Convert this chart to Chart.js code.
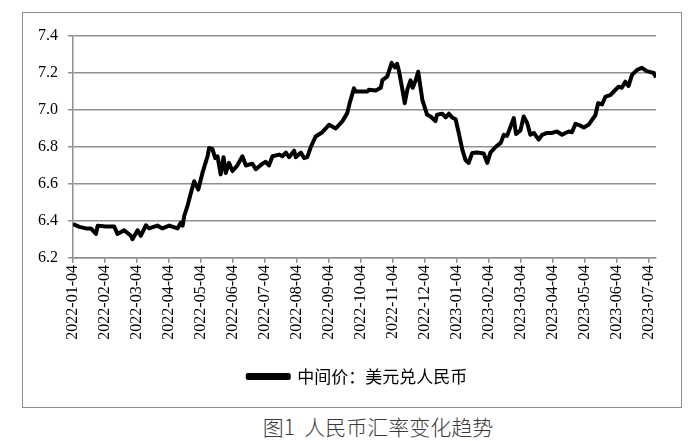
<!DOCTYPE html>
<html>
<head>
<meta charset="utf-8">
<script src="https://cdn.jsdelivr.net/npm/chart.js@4"></script>
<style>
  body { margin: 0; background: #fff; width: 700px; height: 441px; position: relative; overflow: hidden; }
  #frame { position: absolute; left: 22px; top: 12px; width: 658px; height: 394px; border: 1px solid #8c8c8c; }
  #caption { position: absolute; left: 0; width: 756px; top: 411px; text-align: center;
             font-family: "Noto Sans CJK SC", sans-serif; font-weight: 300; font-size: 21px; color: #3a3a3a; white-space: pre; }
</style>
</head>
<body>
<div id="frame"><canvas id="rateChart" width="658" height="394"></canvas></div>
<div id="caption">图1  人民币汇率变化趋势</div>
<script>
// month labels on the x axis (one per month, from 2022-01-04)
const monthLabels = ['2022-01-04', '2022-02-04', '2022-03-04', '2022-04-04', '2022-05-04', '2022-06-04',
    '2022-07-04', '2022-08-04', '2022-09-04', '2022-10-04', '2022-11-04', '2022-12-04',
    '2023-01-04', '2023-02-04', '2023-03-04', '2023-04-04', '2023-05-04', '2023-06-04', '2023-07-04'];

// position of each reading, in months after 2022-01-04
const timePos = [0, 0.2, 0.41, 0.56, 0.72, 0.77, 1.03, 1.29, 1.39, 1.6, 1.81, 1.86, 2.02, 2.12, 2.28, 2.38,
    2.64, 2.8, 3.01, 3.27, 3.37, 3.43, 3.48, 3.58, 3.69, 3.79, 3.92, 4.05, 4.21, 4.26, 4.36, 4.45,
    4.52, 4.62, 4.71, 4.78, 4.88, 4.99, 5.14, 5.3, 5.41, 5.61, 5.72, 5.93, 6.03, 6.13, 6.24, 6.45,
    6.55, 6.66, 6.76, 6.92, 6.97, 7.13, 7.23, 7.33, 7.44, 7.59, 7.8, 8.01, 8.22, 8.43, 8.58, 8.66,
    8.79, 8.84, 9.21, 9.26, 9.47, 9.63, 9.68, 9.83, 9.97, 10.07, 10.14, 10.2, 10.28, 10.38, 10.46,
    10.56, 10.63, 10.72, 10.8, 10.93, 11.08, 11.19, 11.34, 11.39, 11.55, 11.66, 11.76, 11.86, 11.97,
    12.07, 12.18, 12.28, 12.38, 12.49, 12.64, 12.85, 12.96, 13.06, 13.22, 13.38, 13.48, 13.58, 13.69,
    13.79, 13.86, 14.0, 14.1, 14.21, 14.31, 14.42, 14.57, 14.68, 14.83, 14.99, 15.14, 15.3, 15.41,
    15.51, 15.61, 15.72, 15.88, 15.98, 16.13, 16.24, 16.34, 16.43, 16.55, 16.66, 16.81, 16.92, 17.07,
    17.17, 17.28, 17.38, 17.49, 17.64, 17.8, 17.95, 18.06, 18.17, 18.24];

// USD/CNY central parity
const rates = [6.383, 6.368, 6.36, 6.36, 6.33, 6.374, 6.37, 6.37, 6.33, 6.35, 6.32, 6.302, 6.35, 6.32, 6.377, 6.36,
    6.375, 6.36, 6.375, 6.36, 6.39, 6.375, 6.427, 6.48, 6.553, 6.615, 6.57, 6.66, 6.75, 6.795, 6.79, 6.74,
    6.75, 6.652, 6.745, 6.66, 6.714, 6.67, 6.70, 6.75, 6.70, 6.71, 6.68, 6.71, 6.72, 6.70, 6.75, 6.759,
    6.75, 6.77, 6.745, 6.78, 6.745, 6.77, 6.74, 6.745, 6.80, 6.857, 6.88, 6.92, 6.90, 6.94, 6.983, 7.04,
    7.117, 7.10, 7.10, 7.11, 7.105, 7.12, 7.162, 7.18, 7.255, 7.23, 7.25, 7.21, 7.135, 7.037, 7.11,
    7.16, 7.12, 7.16, 7.207, 7.055, 6.974, 6.965, 6.94, 6.975, 6.98, 6.96, 6.98, 6.96, 6.95,
    6.875, 6.786, 6.73, 6.714, 6.768, 6.77, 6.765, 6.714, 6.77, 6.80, 6.822, 6.866, 6.86, 6.91,
    6.956, 6.87, 6.89, 6.965, 6.93, 6.866, 6.876, 6.84, 6.866, 6.876, 6.876, 6.884, 6.866, 6.876,
    6.884, 6.88, 6.925, 6.915, 6.905, 6.92, 6.947, 6.97, 7.037, 7.03, 7.072, 7.08, 7.10, 7.126,
    7.12, 7.153, 7.13, 7.19, 7.216, 7.228, 7.21, 7.205, 7.20, 7.176];

const yTicks = [6.2, 6.4, 6.6, 6.8, 7.0, 7.2, 7.4];

const gridColor = '#8f8f8f';
const serif = 'Liberation Serif';

const rateChart = new Chart(document.getElementById('rateChart'), {
    type: 'line',
    data: {
        datasets: [{
            label: '中间价：美元兑人民币',
            data: timePos.map((t, i) => ({ x: t, y: rates[i] })),
            borderColor: '#000',
            backgroundColor: '#000',
            borderWidth: 4,
            borderJoinStyle: 'round',
            pointRadius: 0,
            tension: 0
        }]
    },
    options: {
        responsive: false,
        animation: false,
        layout: { padding: { left: 0, right: 25, top: 23, bottom: 12 } },
        plugins: {
            tooltip: { enabled: false },
            legend: {
                position: 'bottom',
                labels: {
                    color: '#000',
                    boxWidth: 41,
                    boxHeight: 3,
                    padding: 10,
                    font: { family: 'Noto Sans CJK SC', size: 17 }
                }
            }
        },
        scales: {
            x: {
                type: 'linear',
                min: 0,
                max: 18.24,
                afterBuildTicks: axis => { axis.ticks = monthLabels.map((_, i) => ({ value: i })); },
                afterFit: axis => { axis.height = 100; },
                ticks: {
                    autoSkip: false,
                    minRotation: 90,
                    maxRotation: 90,
                    padding: 2,
                    color: '#000',
                    font: { family: serif, size: 16 },
                    callback: v => monthLabels[v]
                },
                grid: { drawOnChartArea: false, drawTicks: true, tickLength: 5, color: gridColor, lineWidth: 1.5 },
                border: { color: gridColor, width: 1.5 }
            },
            y: {
                min: 6.2,
                max: 7.4,
                afterBuildTicks: axis => { axis.ticks = yTicks.map(v => ({ value: v })); },
                afterFit: axis => { axis.width = 50; },
                ticks: {
                    padding: 10,
                    color: '#000',
                    font: { family: serif, size: 16 },
                    callback: v => v.toFixed(1)
                },
                grid: { color: gridColor, lineWidth: 1.5, tickLength: 5 },
                border: { color: gridColor, width: 1.5 }
            }
        }
    }
});

// the legend sits a little right of centre in the original
const legendDraw = rateChart.legend.draw;
rateChart.legend.draw = function () {
    const ctx = rateChart.ctx;
    ctx.save();
    ctx.translate(18, 0);
    legendDraw.apply(this, arguments);
    ctx.restore();
};
rateChart.draw();
</script>
</body>
</html>
